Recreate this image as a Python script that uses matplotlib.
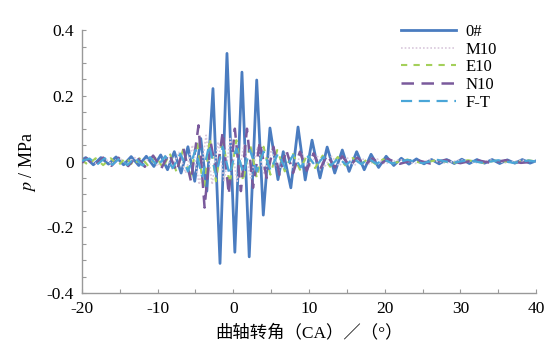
import matplotlib
matplotlib.use("Agg")
import matplotlib.pyplot as plt
from matplotlib.ticker import MultipleLocator, FuncFormatter

plt.rcParams["mathtext.fontset"] = "stix"

# pressure oscillation traces (crank angle in deg, p in MPa)
x_0 = [-20, -19.5, -18.5, -17.5, -16.5, -15.5, -14.5, -13.5, -12.5, -11.5, -10.5,
       -9.6, -8.7, -7.8, -6.9, -6.0, -5.1, -4.3, -3.5, -2.69, -1.76, -0.84, 0.2,
       1.14, 2.1, 3.09, 3.96, 4.84, 5.9, 6.6, 7.6, 8.55, 9.5, 10.4, 11.45, 12.4,
       13.4, 14.4, 15.3, 16.3, 17.3, 18.2, 19.2, 20.2, 21.2, 22.2, 23.2, 24.2,
       25.2, 26.2, 27.2, 28.2, 29.2, 30.2, 31.2, 32.2, 33.2, 34.2, 35.2, 36.2,
       37.2, 38.2, 39.2, 40]
p_0 = [0.005, 0.012, -0.01, 0.012, -0.008, 0.014, -0.01, 0.015, -0.012, 0.016, -0.015,
       0.02, -0.025, 0.03, -0.035, 0.045, -0.06, 0.07, -0.09, 0.222, -0.31, 0.329, -0.276,
       0.272, -0.29, 0.248, -0.163, 0.102, -0.055, 0.03, -0.08, 0.105, -0.056, 0.065, -0.05, 0.044,
       -0.035, 0.035, -0.03, 0.03, -0.025, 0.022, -0.018, 0.016, -0.012, 0.01, -0.008, 0.008,
       -0.007, 0.006, -0.007, 0.006, -0.006, 0.007, -0.006, 0.006, -0.005, 0.006, -0.006, 0.005,
       -0.005, 0.006, -0.005, 0.002]

x_m10 = [-20, -19, -18, -17, -16, -15, -14, -13, -12, -11, -10, -9, -8.1, -7.2, -6.3,
         -5.4, -4.5, -3.6, -2.8, -2.0, -1.2, -0.4, 0.5, 1.4, 2.3, 3.2, 4.1, 5.0, 6.0,
         7.0, 8.0, 9.0, 10.0, 11.0, 12.0, 13.0, 14.0, 15.0, 16.0, 17.0, 18.0, 19.0,
         20.0, 22.0, 24.0, 26.0, 28.0, 30.0, 32.0, 34.0, 36.0, 38.0, 40.0]
p_m10 = [0.0, 0.008, -0.008, 0.01, -0.009, 0.01, -0.01, 0.012, -0.012, 0.014, -0.014,
         0.018, -0.022, 0.028, -0.035, 0.05, -0.07, 0.08, -0.07, 0.06, -0.06, 0.07, -0.06,
         0.05, -0.05, 0.045, -0.04, 0.035, -0.03, 0.03, -0.025, 0.025, -0.02, 0.02, -0.018,
         0.016, -0.014, 0.013, -0.012, 0.01, -0.009, 0.008, -0.007, 0.006, -0.006, 0.005,
         -0.005, 0.005, -0.004, 0.004, -0.004, 0.004, 0.0]

x_e10 = [-20, -19.2, -18.2, -17.2, -16.2, -15.2, -14.2, -13.2, -12.2, -11.2, -10.2,
         -9.3, -8.4, -7.5, -6.6, -5.7, -4.8, -3.9, -3.1, -2.3, -1.4, -0.5, 0.4, 1.3,
         2.2, 3.1, 4.0, 4.9, 5.8, 6.8, 7.8, 8.8, 9.8, 10.8, 11.8, 12.8, 13.8, 14.8,
         15.8, 16.8, 17.8, 18.8, 19.8, 21.0, 23.0, 25.0, 27.0, 29.0, 31.0, 33.0,
         35.0, 37.0, 39.0, 40.0]
p_e10 = [0.004, -0.01, 0.01, -0.011, 0.01, -0.012, 0.012, -0.013, 0.014, -0.015, 0.016,
         -0.02, 0.025, -0.032, 0.04, -0.05, 0.06, -0.085, 0.07, -0.06, 0.075, -0.07, 0.065,
         -0.06, 0.055, -0.05, 0.045, -0.04, 0.035, -0.03, 0.028, -0.025, 0.022, -0.02, 0.018,
         -0.016, 0.014, -0.012, 0.011, -0.01, 0.009, -0.008, 0.007, -0.006, 0.006, -0.005,
         0.005, -0.005, 0.004, -0.004, 0.004, -0.004, 0.004, 0.0]

x_n10 = [-20, -19.4, -18.3, -17.2, -16.1, -15.0, -13.9, -12.8, -11.7, -10.6, -9.5,
         -8.5, -7.5, -6.6, -5.6, -4.6, -3.8, -3.0, -2.2, -1.4, -0.6, 0.2, 1.0, 1.8,
         2.6, 3.5, 4.4, 5.3, 6.1, 7.0, 7.9, 8.8, 9.7, 10.6, 11.5, 12.4, 13.4, 14.4,
         15.4, 16.4, 17.4, 18.4, 19.4, 20.4, 22.0, 24.0, 26.0, 28.0, 30.0, 32.0,
         34.0, 36.0, 38.0, 40.0]
p_n10 = [-0.004, 0.01, -0.012, 0.012, -0.013, 0.014, -0.014, 0.015, -0.016, 0.018, -0.02,
         0.024, -0.03, 0.04, -0.06, 0.11, -0.14, 0.06, -0.04, 0.09, -0.1, 0.1, -0.09, 0.1,
         -0.08, 0.06, -0.05, 0.045, -0.04, 0.035, -0.035, 0.03, -0.028, 0.025, -0.022, 0.02,
         -0.018, 0.016, -0.014, 0.012, -0.011, 0.01, -0.009, 0.008, -0.007, 0.006, -0.006,
         0.005, -0.005, 0.005, -0.004, 0.004, -0.004, 0.0]

x_ft = [-20, -19.0, -18.0, -17.0, -16.0, -15.0, -14.0, -13.0, -12.0, -11.0, -10.0,
        -9.0, -8.0, -7.0, -6.0, -5.0, -4.1, -3.2, -2.3, -1.4, -0.5, 0.4, 1.3, 2.2,
        3.1, 4.0, 4.9, 5.9, 6.9, 7.9, 8.9, 9.9, 10.9, 11.9, 12.9, 13.9, 14.9, 15.9,
        16.9, 17.9, 18.9, 19.9, 21.0, 23.0, 25.0, 27.0, 29.0, 31.0, 33.0, 35.0,
        37.0, 39.0, 40.0]
p_ft = [0.002, 0.009, -0.009, 0.01, -0.01, 0.011, -0.011, 0.012, -0.012, 0.013, -0.014,
        0.016, -0.02, 0.024, -0.03, 0.035, -0.045, 0.05, -0.04, 0.045, -0.04, 0.04, -0.035,
        0.035, -0.03, 0.03, -0.026, 0.024, -0.022, 0.02, -0.018, 0.016, -0.015, 0.014,
        -0.012, 0.011, -0.01, 0.009, -0.008, 0.008, -0.007, 0.006, -0.006, 0.005, -0.005,
        0.005, -0.004, 0.004, -0.004, 0.004, -0.004, 0.003, 0.0]

labels = ["0#", "M10", "E10", "N10", "F-T"]

fig = plt.figure(figsize=(5.51, 3.58), dpi=100)
ax = fig.add_axes([0.1488, 0.1816, 0.8240, 0.7344])

ax.plot(x_0, p_0, color="#4a7cc0", lw=2.0, label=labels[0], zorder=2)
ax.plot(x_m10, p_m10, color="#d9c8dc", lw=1.2, ls=(0, (1, 1.2)), label=labels[1], zorder=3)
ax.plot(x_e10, p_e10, color="#a4d05a", lw=1.5, ls=(0, (3, 3)), label=labels[2], zorder=3)
ax.plot(x_n10, p_n10, color="#7a5a9c", lw=1.8, ls=(0, (5, 3)), label=labels[3], zorder=4)
ax.plot(x_ft, p_ft, color="#4aa6d8", lw=1.6, ls=(0, (5, 3)), label=labels[4], zorder=5)

ax.set_xlim(-20, 40)
ax.set_ylim(-0.4, 0.4)
ax.xaxis.set_major_locator(MultipleLocator(10))
ax.xaxis.set_minor_locator(MultipleLocator(5))
ax.yaxis.set_major_locator(MultipleLocator(0.2))
ax.yaxis.set_minor_locator(MultipleLocator(0.05))
ax.xaxis.set_major_formatter(FuncFormatter(lambda v, pos: f"{v:.0f}"))
ax.yaxis.set_major_formatter(FuncFormatter(lambda v, pos: "0" if abs(v) < 1e-9 else f"{v:.1f}"))

for s in ["top", "right"]:
    ax.spines[s].set_visible(False)
for s in ["left", "bottom"]:
    ax.spines[s].set_color("#999999")
    ax.spines[s].set_linewidth(1.0)
ax.tick_params(which="both", direction="in", color="#999999", length=3, width=0.8)
ax.tick_params(which="major", labelsize=12.5, pad=6)
for lab in ax.get_xticklabels() + ax.get_yticklabels():
    lab.set_family("Liberation Serif")

ax.set_xlabel("曲轴转角（CA）／（°）", fontsize=12.5,
              family=["Liberation Serif", "Noto Sans CJK SC"], labelpad=5)
ax.set_ylabel(r"$p$ / MPa", fontsize=13, family="Liberation Serif", labelpad=6)

leg = ax.legend(loc="upper left", bbox_to_anchor=(0.70, 0.975), bbox_transform=fig.transFigure,
                frameon=False, prop={"family": "Liberation Serif", "size": 12},
                handlelength=3.3, handletextpad=0.6, labelspacing=0.1)

fig.savefig("out.png", dpi=100)
